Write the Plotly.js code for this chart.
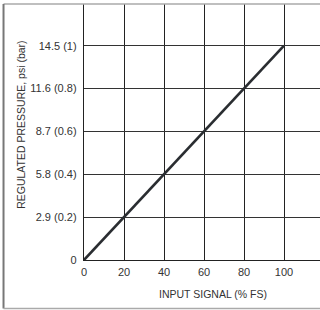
<!DOCTYPE html>
<html>
<head>
<meta charset="utf-8">
<script src="https://cdn.plot.ly/plotly-3.0.1.min.js"></script>
<style>html,body{margin:0;padding:0;background:#fff;}#chart{width:320px;height:310px;}</style>
</head>
<body>
<div id="chart"></div>
<script>
const inputSignal = [0, 100];
const pressurePsi = [0, 14.5];
const xTickVals = [0, 20, 40, 60, 80, 100];
const yTickVals = [0, 2.9, 5.8, 8.7, 11.6, 14.5];
const yTickText = ['0', '2.9 (0.2)', '5.8 (0.4)', '8.7 (0.6)', '11.6 (0.8)', '14.5 (1)'];
const xTitle = 'INPUT SIGNAL (% FS)';
const yTitle = 'REGULATED PRESSURE, psi (bar)';

const font = {family: '"Liberation Sans", Arial, sans-serif', size: 11, color: '#333'};

const trace = {
  x: inputSignal, y: pressurePsi, type: 'scatter', mode: 'lines',
  line: {color: '#2a2d31', width: 2.6}, hoverinfo: 'skip'
};

const layout = {
  width: 320, height: 310,
  margin: {l: 84, r: 0, t: 4, b: 50, pad: 0},
  paper_bgcolor: '#fff', plot_bgcolor: '#fff',
  showlegend: false, font: font,
  xaxis: {
    range: [0, 118], tickvals: xTickVals, ticktext: xTickVals.map(String),
    showgrid: true, gridcolor: '#222', gridwidth: 1,
    zeroline: false, showline: true, linecolor: '#222', linewidth: 1.2,
    ticks: '', ticklabelstandoff: 2, fixedrange: true, tickfont: font
  },
  yaxis: {
    range: [0, 17.32], tickvals: yTickVals, ticktext: yTickText,
    showgrid: true, gridcolor: '#333', gridwidth: 1,
    zeroline: false, showline: true, linecolor: '#222', linewidth: 1.2,
    ticks: '', ticklabelstandoff: 4, fixedrange: true, tickfont: font
  },
  annotations: [
    {text: xTitle, xref: 'paper', yref: 'paper', x: 0.547, y: -0.133,
     showarrow: false, xanchor: 'center', yanchor: 'middle', font: {family: font.family, size: 10.5, color: '#333'}},
    {text: yTitle, xref: 'paper', yref: 'paper', x: -0.268, y: 0.527, textangle: -90,
     showarrow: false, xanchor: 'center', yanchor: 'middle', font: {family: font.family, size: 10.5, color: '#333'}}
  ],
  shapes: [
    {type: 'line', xref: 'paper', yref: 'paper', x0: -0.341, x1: 1.1, y0: 1, y1: 1, line: {color: '#aaa', width: 1.5}},
    {type: 'line', xref: 'paper', yref: 'paper', x0: -0.341, x1: -0.341, y0: 1, y1: -0.1895, line: {color: '#777', width: 2}},
    {type: 'line', xref: 'paper', yref: 'paper', x0: -0.341, x1: 1.1, y0: -0.1895, y1: -0.1895, line: {color: '#aaa', width: 1.5}}
  ]
};

Plotly.newPlot('chart', [trace], layout, {displayModeBar: false, staticPlot: true});
</script>
</body>
</html>
